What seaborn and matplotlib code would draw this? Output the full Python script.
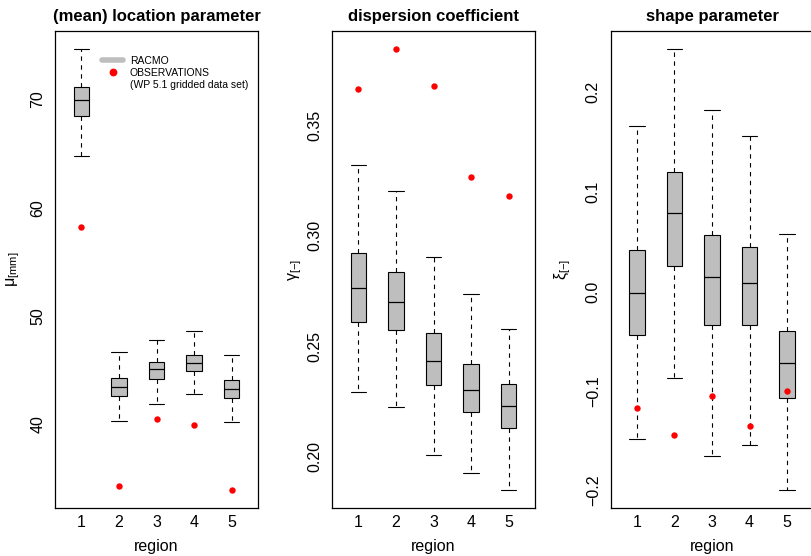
import numpy as np
import pandas as pd
import matplotlib
matplotlib.use("Agg")
import matplotlib.pyplot as plt
from matplotlib.lines import Line2D
import seaborn as sns

sns.set_style("white")
plt.rcParams['font.family'] = ['Liberation Sans', 'DejaVu Sans']
plt.rcParams['mathtext.fontset'] = 'custom'
plt.rcParams['mathtext.rm'] = 'Liberation Sans'
plt.rcParams['mathtext.it'] = 'Liberation Sans:italic'
plt.rcParams['axes.unicode_minus'] = True
plt.rcParams['text.color'] = 'black'
plt.rcParams['axes.labelcolor'] = 'black'
plt.rcParams['xtick.color'] = 'black'
plt.rcParams['ytick.color'] = 'black'

regions = ["1", "2", "3", "4", "5"]

# five-number summaries: lower whisker, Q1, median, Q3, upper whisker
loc_low = [64.8, 40.3, 41.9, 42.8, 40.2]
loc_q1 = [68.5, 42.6, 44.2, 44.9, 42.4]
loc_med = [70.0, 43.4, 45.1, 45.7, 43.3]
loc_q3 = [71.2, 44.3, 45.8, 46.4, 44.1]
loc_high = [74.7, 46.7, 47.8, 48.6, 46.4]
loc_obs = [58.2, 34.3, 40.5, 39.9, 33.9]

disp_low = [0.2294, 0.2225, 0.2008, 0.1928, 0.1848]
disp_q1 = [0.2611, 0.2574, 0.2326, 0.2204, 0.2128]
disp_med = [0.2765, 0.2701, 0.2432, 0.2303, 0.2229]
disp_q3 = [0.2924, 0.2836, 0.2560, 0.2420, 0.2330]
disp_high = [0.3320, 0.3203, 0.2903, 0.2736, 0.2579]
disp_obs = [0.3667, 0.3848, 0.3681, 0.3267, 0.3182]

shape_low = [-0.148, -0.087, -0.165, -0.154, -0.200]
shape_q1 = [-0.044, 0.026, -0.034, -0.034, -0.107]
shape_med = [-0.002, 0.079, 0.014, 0.008, -0.072]
shape_q3 = [0.042, 0.120, 0.057, 0.045, -0.040]
shape_high = [0.166, 0.244, 0.182, 0.156, 0.058]
shape_obs = [-0.117, -0.144, -0.105, -0.135, -0.100]

titles = ["(mean) location parameter", "dispersion coefficient", "shape parameter"]
ylabels = [r"$\mathrm{\mu}_{\mathrm{[mm]}}$", r"$\mathrm{\gamma}_{\mathrm{[-]}}$", r"$\mathrm{\xi}_{\mathrm{[-]}}$"]
yticks_list = [[40, 50, 60, 70], [0.20, 0.25, 0.30, 0.35], [-0.2, -0.1, 0.0, 0.1, 0.2]]
ytick_labels = [["40", "50", "60", "70"], ["0.20", "0.25", "0.30", "0.35"],
                ["\u22120.2", "\u22120.1", "0.0", "0.1", "0.2"]]
legend_labels = ["RACMO", "OBSERVATIONS", "(WP 5.1 gridded data set)"]

panels = [
    (loc_low, loc_q1, loc_med, loc_q3, loc_high, loc_obs),
    (disp_low, disp_q1, disp_med, disp_q3, disp_high, disp_obs),
    (shape_low, shape_q1, shape_med, shape_q3, shape_high, shape_obs),
]

W, H = 811, 556
fig = plt.figure(figsize=(W / 100, H / 100), dpi=100)
lefts = [55, 332, 610.5]
top_px, bot_px = 31, 508
axw = 203
ylabel_x = [13, 295, 563]

box_w = 0.41

for i, (low, q1, med, q3, high, obs) in enumerate(panels):
    ax = fig.add_axes([lefts[i] / W, (H - bot_px) / H, axw / W, (bot_px - top_px) / H])
    rows = []
    for r, a, b, c, d, e in zip(regions, low, q1, med, q3, high):
        for v in (a, b, c, d, e):
            rows.append({"region": r, "value": v})
    df = pd.DataFrame(rows)
    sns.boxplot(data=df, x="region", y="value", order=regions, ax=ax,
                width=box_w, whis=(0, 100), color="#BEBEBE", saturation=1,
                fliersize=0, capwidths=box_w,
                boxprops=dict(facecolor="#BEBEBE", edgecolor="black", linewidth=0.8),
                medianprops=dict(color="black", linewidth=0.9),
                whiskerprops=dict(color="black", linewidth=0.8, linestyle=(0, (4, 4))),
                capprops=dict(color="black", linewidth=0.8))
    obs_df = pd.DataFrame({"region": regions, "value": obs})
    sns.stripplot(data=obs_df, x="region", y="value", order=regions, ax=ax,
                  jitter=False, color="red", size=4.6, linewidth=0, zorder=5)

    allv = list(low) + list(high) + list(obs)
    lo, hi = min(allv), max(allv)
    rng = hi - lo
    ax.set_ylim(lo - 0.04 * rng, hi + 0.04 * rng)
    ax.set_xlim(-0.7, 4.7)
    ax.set_yticks(yticks_list[i])
    ax.set_yticklabels(ytick_labels[i], rotation=90, va="center")
    ax.tick_params(axis="y", length=2, width=0.8, pad=5, labelsize=11.5, colors="black")
    ax.tick_params(axis="x", length=0, pad=5, labelsize=11.5, colors="black")
    for s in ax.spines.values():
        s.set_visible(True)
        s.set_color("black")
        s.set_linewidth(0.9)
    ax.set_title(titles[i], fontsize=12, fontweight="bold", pad=7.5, color="black")
    ax.set_xlabel("region", fontsize=11.5)
    ax.xaxis.label.set_va("center")
    ax.xaxis.set_label_coords(0.5, (bot_px - 546.7) / (bot_px - top_px))
    ax.set_ylabel(ylabels[i], fontsize=11.5)
    ax.yaxis.label.set_va("center")
    ax.yaxis.set_label_coords((ylabel_x[i] - lefts[i]) / axw, 0.5)
    ax.grid(False)

    if i == 0:
        handles = [
            Line2D([], [], color="#BEBEBE", linewidth=4),
            Line2D([], [], linestyle="none", marker="o", color="red", markersize=4.6),
            Line2D([], [], linestyle="none"),
        ]
        leg = ax.legend(handles, legend_labels, loc="upper left",
                        bbox_to_anchor=((101.7 - 55) / axw, (bot_px - 55.5) / (bot_px - top_px)),
                        frameon=False, fontsize=7.5, handlelength=2.08, handletextpad=0.62,
                        borderpad=0, borderaxespad=0, labelspacing=0.22)
        for t in leg.get_texts():
            t.set_color("black")

fig.savefig("out.png", dpi=100)
